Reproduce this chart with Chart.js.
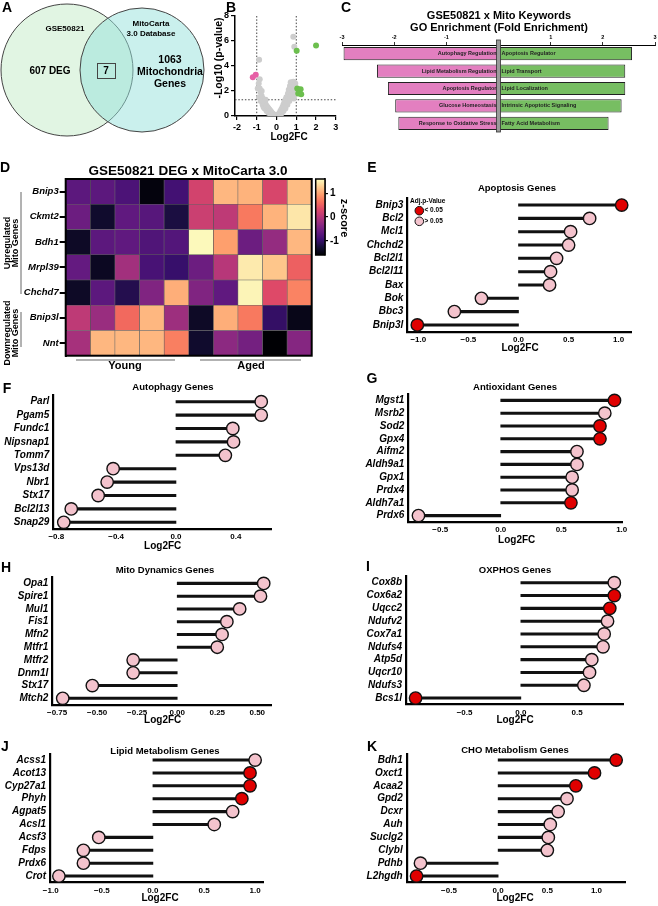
<!DOCTYPE html>
<html>
<head>
<meta charset="utf-8">
<script src="https://cdn.jsdelivr.net/npm/chart.js@4.4.1/dist/chart.umd.min.js"></script>
<style>
  body { margin: 0; background: #fff; }
  #fig { position: relative; width: 658px; height: 906px; background: #fff; overflow: hidden; }
  #fig canvas { position: absolute; }
</style>
</head>
<body>
<div id="fig"></div>
<script>
// ---- A: Venn ----
const vennNames = ['GSE50821', 'MitoCarta', '3.0 Database'];
const vennCounts = ['607 DEG', '7', '1063', 'Mitochondria', 'Genes'];
const vennX = [67, 142];
const vennR = [66, 62];

// ---- B: volcano (Log2FC, -log10 p) ----
const volcanoUp = [[2.0, 5.65], [1.02, 5.23], [1.05, 2.21], [1.22, 2.14], [1.1, 1.81], [1.25, 1.74]];
const volcanoDown = [[-1.2, 3.1], [-1.05, 3.3]];
const volcanoGray = [
  [-0.95, 2.2], [-0.88, 4.5], [-0.85, 2.95], [-0.9, 2.6], [-0.85, 2.2], [-0.88, 1.5], [-0.8, 1.9], [-0.8, 1.2],
  [-0.75, 2.0], [-0.75, 1.6], [-0.7, 1.4], [-0.7, 0.9], [-0.65, 1.2], [-0.65, 0.7], [-0.6, 1.1], [-0.6, 0.6],
  [-0.55, 0.95], [-0.55, 1.3], [-0.5, 0.8], [-0.5, 0.4], [-0.45, 0.7], [-0.4, 0.6], [-0.4, 0.25], [-0.35, 0.5],
  [-0.3, 0.4], [-0.3, 0.15], [-0.25, 0.3], [-0.2, 0.2], [-0.2, 0.05], [-0.15, 0.15], [-0.1, 0.08], [-0.05, 0.03],
  [0.05, 0.04], [0.1, 0.1], [0.1, 0.15], [0.15, 0.18], [0.15, 0.25], [0.2, 0.3], [0.2, 0.4], [0.25, 0.4],
  [0.25, 0.55], [0.25, 0.2], [0.3, 0.5], [0.3, 0.7], [0.35, 0.65], [0.35, 0.9], [0.35, 0.4], [0.4, 0.8],
  [0.4, 1.1], [0.45, 0.95], [0.45, 1.3], [0.45, 0.6], [0.5, 1.1], [0.5, 1.5], [0.55, 1.3], [0.55, 0.9],
  [0.58, 1.8], [0.6, 1.5], [0.62, 2.1], [0.65, 1.7], [0.65, 1.2], [0.68, 2.4], [0.7, 1.95], [0.7, 1.45],
  [0.72, 2.7], [0.75, 2.2], [0.78, 2.3], [0.8, 2.5], [0.82, 1.9], [0.85, 2.75], [0.88, 1.4], [0.9, 2.1],
  [0.92, 1.7], [0.95, 2.6], [0.85, 6.35], [0.9, 5.55]
];
const volcanoXTicks = [-2, -1, 0, 1, 2, 3];
const volcanoYTicks = [0, 2, 4, 6, 8];

// ---- C: GO enrichment ----
const goDownTerms = ['Autophagy Regulation', 'Lipid Metabolism Regulation', 'Apoptosis Regulator', 'Glucose Homeostasis', 'Response to Oxidative Stress'];
const goDownFE = [-2.97, -2.33, -2.12, -1.98, -1.92];
const goUpTerms = ['Apoptosis Regulator', 'Lipid Transport', 'Lipid Localization', 'Intrinsic Apoptotic Signaling', 'Fatty Acid Metabolism'];
const goUpFE = [2.56, 2.43, 2.43, 2.36, 2.11];
const goTicks = [-3, -2, -1, 0, 1, 2, 3];

// ---- D: heatmap ----
const heatGenes = ['Bnip3', 'Ckmt2', 'Bdh1', 'Mrpl39', 'Chchd7', 'Bnip3l', 'Nnt'];
const heatSamples = ['Y1', 'Y2', 'Y3', 'Y4', 'Y5', 'A1', 'A2', 'A3', 'A4', 'A5'];
const heatZ = [
  [-0.70, -0.70, -0.83, -1.54, -0.90, 0.22, 1.12, 1.09, 0.26, 1.15],
  [-0.58, -1.34, -0.67, -0.74, -1.22, 0.16, 0.06, 0.70, 1.09, 1.44],
  [-1.38, -0.70, -0.67, -0.80, -0.77, 1.57, 0.96, -0.58, -0.26, 1.12],
  [-0.64, -1.41, -0.16, -0.86, -0.99, -0.58, 0.00, 1.47, 1.22, 0.51],
  [-1.38, -0.70, -1.15, -0.42, 1.06, -0.42, -0.67, 1.54, 0.32, 0.77],
  [0.06, -0.22, 0.58, 1.12, -0.19, -1.38, 1.06, 0.70, -1.02, -1.47],
  [-0.13, 1.12, 1.12, 1.12, 0.74, -1.34, -0.32, -0.51, -1.60, -0.38]
];
const zTicks = [-1, 0, 1];
const Z_MIN = -1.6, Z_MAX = 1.6;

// ---- E-K: lollipops ----
const apoptosisGenes = ['Bnip3', 'Bcl2', 'Mcl1', 'Chchd2', 'Bcl2l1', 'Bcl2l11', 'Bax', 'Bok', 'Bbc3', 'Bnip3l'];
const apoptosisFC = [1.03, 0.71, 0.52, 0.50, 0.38, 0.32, 0.31, -0.37, -0.64, -1.01];
const apoptosisSig = [1, 0, 0, 0, 0, 0, 0, 0, 0, 1];
const apoptosisTicks = [-1, -0.5, 0, 0.5, 1];

const autophagyGenes = ['Parl', 'Pgam5', 'Fundc1', 'Nipsnap1', 'Tomm7', 'Vps13d', 'Nbr1', 'Stx17', 'Bcl2l13', 'Snap29'];
const autophagyFC = [0.57, 0.57, 0.38, 0.385, 0.33, -0.42, -0.46, -0.52, -0.70, -0.75];
const autophagySig = [0, 0, 0, 0, 0, 0, 0, 0, 0, 0];
const autophagyTicks = [-0.8, -0.4, 0, 0.4];

const antioxGenes = ['Mgst1', 'Msrb2', 'Sod2', 'Gpx4', 'Aifm2', 'Aldh9a1', 'Gpx1', 'Prdx4', 'Aldh7a1', 'Prdx6'];
const antioxFC = [0.94, 0.86, 0.82, 0.82, 0.63, 0.63, 0.59, 0.59, 0.58, -0.68];
const antioxSig = [1, 0, 1, 1, 0, 0, 0, 0, 1, 0];
const antioxTicks = [-0.5, 0, 0.5, 1];

const dynamicsGenes = ['Opa1', 'Spire1', 'Mul1', 'Fis1', 'Mfn2', 'Mtfr1', 'Mtfr2', 'Dnm1l', 'Stx17', 'Mtch2'];
const dynamicsFC = [0.54, 0.52, 0.39, 0.31, 0.28, 0.25, -0.275, -0.275, -0.53, -0.715];
const dynamicsSig = [0, 0, 0, 0, 0, 0, 0, 0, 0, 0];
const dynamicsTicks = [-0.75, -0.5, -0.25, 0, 0.25, 0.5];

const oxphosGenes = ['Cox8b', 'Cox6a2', 'Uqcc2', 'Ndufv2', 'Cox7a1', 'Ndufs4', 'Atp5d', 'Uqcr10', 'Ndufs3', 'Bcs1l'];
const oxphosFC = [0.83, 0.83, 0.79, 0.77, 0.74, 0.73, 0.63, 0.61, 0.56, -0.935];
const oxphosSig = [0, 1, 1, 0, 0, 0, 0, 0, 0, 1];
const oxphosTicks = [-0.5, 0, 0.5];

const lipidGenes = ['Acss1', 'Acot13', 'Cyp27a1', 'Phyh', 'Agpat5', 'Acsl1', 'Acsf3', 'Fdps', 'Prdx6', 'Crot'];
const lipidFC = [1.0, 0.95, 0.95, 0.87, 0.78, 0.60, -0.53, -0.68, -0.68, -0.92];
const lipidSig = [0, 1, 1, 1, 0, 0, 0, 0, 0, 0];
const lipidTicks = [-1, -0.5, 0, 0.5, 1];

const choGenes = ['Bdh1', 'Oxct1', 'Acaa2', 'Gpd2', 'Dcxr', 'Auh', 'Suclg2', 'Clybl', 'Pdhb', 'L2hgdh'];
const choFC = [1.20, 0.98, 0.79, 0.70, 0.61, 0.53, 0.51, 0.50, -0.79, -0.83];
const choSig = [1, 1, 1, 0, 0, 0, 0, 0, 0, 1];
const choTicks = [-0.5, 0, 0.5, 1];

// ---------------------------------------------------------------
const FONT = "'Liberation Sans', Arial, Helvetica, sans-serif";
Chart.defaults.font.family = FONT;
Chart.defaults.color = '#000';
Chart.defaults.animation = false;
Chart.defaults.responsive = false;
Chart.defaults.events = [];
Chart.defaults.plugins.legend.display = false;
Chart.defaults.plugins.tooltip.enabled = false;

const RED = '#e00000';
const PINK = '#f4c3cd';

function f(size, style) {
  return (style || 'bold') + ' ' + size + 'px ' + FONT;
}

function addCanvas(x, y, w, h) {
  const c = document.createElement('canvas');
  c.width = w; c.height = h;
  c.style.left = x + 'px'; c.style.top = y + 'px';
  c.style.width = w + 'px'; c.style.height = h + 'px';
  document.getElementById('fig').appendChild(c);
  return c;
}

// texts are given in page coordinates, ox/oy is the canvas origin
function textLayer(ox, oy, items, extra) {
  return {
    id: 'textLayer',
    afterDraw(chart) {
      const ctx = chart.ctx;
      ctx.save();
      ctx.translate(-ox, -oy);
      if (extra) extra(chart, ctx);
      items.forEach(it => {
        ctx.save();
        ctx.font = it.font;
        ctx.fillStyle = it.color || '#000';
        ctx.textAlign = it.align || 'center';
        ctx.textBaseline = 'middle';
        ctx.translate(it.x, it.y);
        if (it.rot) ctx.rotate(it.rot);
        ctx.fillText(it.text, 0, 0);
        ctx.restore();
      });
      ctx.restore();
    }
  };
}

function fixedTicks(vals) {
  return s => { s.ticks = vals.map(v => ({ value: v })); };
}

function hexToRgb(h) {
  return [parseInt(h.slice(1, 3), 16), parseInt(h.slice(3, 5), 16), parseInt(h.slice(5, 7), 16)];
}
const MAGMA = ['#000004', '#140e36', '#3b0f70', '#641a80', '#8c2981', '#b73779', '#de4968', '#f7705c', '#fe9f6d', '#fecf92', '#fcfdbf'].map(hexToRgb);
function zColor(z) {
  let t = (z - Z_MIN) / (Z_MAX - Z_MIN);
  t = Math.max(0, Math.min(1, t));
  const p = t * (MAGMA.length - 1);
  const i = Math.min(Math.floor(p), MAGMA.length - 2);
  const k = p - i;
  const a = MAGMA[i], b = MAGMA[i + 1];
  return 'rgb(' + [0, 1, 2].map(j => Math.round(a[j] + (b[j] - a[j]) * k)).join(',') + ')';
}

// ---------------- A: Venn ----------------
(function () {
  const cv = addCanvas(0, 0, 215, 145);
  new Chart(cv, {
    type: 'bubble',
    data: {
      datasets: [
        { data: [{ x: vennX[1], y: 70, r: vennR[1] }], backgroundColor: 'rgba(150,225,220,0.5)', borderColor: '#444', borderWidth: 1, clip: false },
        { data: [{ x: vennX[0], y: 70, r: vennR[0] }], backgroundColor: 'rgba(195,235,200,0.5)', borderColor: '#444', borderWidth: 1, clip: false }
      ]
    },
    options: {
      layout: { padding: 0, autoPadding: false },
      scales: {
        x: { display: false, min: 0, max: 215 },
        y: { display: false, min: 0, max: 145, reverse: true }
      }
    },
    plugins: [textLayer(0, 0, [
      { text: 'A', x: 7, y: 8, font: f(14) },
      { text: vennNames[0], x: 65, y: 29, font: f(8) },
      { text: vennNames[1], x: 151, y: 24, font: f(8) },
      { text: vennNames[2], x: 151, y: 34, font: f(8) },
      { text: vennCounts[0], x: 50, y: 71, font: f(10) },
      { text: vennCounts[1], x: 106, y: 71, font: f(10) },
      { text: vennCounts[2], x: 170, y: 60, font: f(10.5) },
      { text: vennCounts[3], x: 170, y: 72, font: f(10.5) },
      { text: vennCounts[4], x: 170, y: 84, font: f(10.5) }
    ], (chart, ctx) => {
      ctx.strokeStyle = '#444';
      ctx.lineWidth = 1;
      ctx.strokeRect(97.5, 63.5, 18, 15);
    })]
  });
})();

// ---------------- B: volcano ----------------
(function () {
  const bx = 195, by = 0, bw = 150, bh = 145;
  const cv = addCanvas(bx, by, bw, bh);
  const pts = a => a.map(p => ({ x: p[0], y: p[1] }));
  const axisGrid = { display: true, drawOnChartArea: false, drawTicks: true, tickLength: 4, color: '#000', lineWidth: 1.2 };
  new Chart(cv, {
    type: 'scatter',
    data: {
      datasets: [
        { data: pts(volcanoUp), backgroundColor: '#6cbf4e', pointRadius: 3, borderWidth: 0 },
        { data: pts(volcanoDown), backgroundColor: '#e65fa5', pointRadius: 3, borderWidth: 0 },
        { data: pts(volcanoGray), backgroundColor: '#cdcdcd', pointRadius: 3, borderWidth: 0 }
      ]
    },
    options: {
      layout: { padding: { left: 0, top: 16, right: bw - (335.8 - bx), bottom: 0 } },
      scales: {
        x: {
          type: 'linear', min: -2.1, max: 3,
          afterFit: s => { s.height = bh - 116; },
          afterBuildTicks: fixedTicks(volcanoXTicks),
          grid: axisGrid, border: { color: '#000', width: 1.5 },
          ticks: { font: { size: 9, weight: 'bold' }, padding: 2 }
        },
        y: {
          type: 'linear', min: 0, max: 8,
          afterFit: s => { s.width = 235 - bx; },
          afterBuildTicks: fixedTicks(volcanoYTicks),
          grid: axisGrid, border: { color: '#000', width: 1.5 },
          ticks: { font: { size: 9, weight: 'bold' }, padding: 2 }
        }
      }
    },
    plugins: [{
      id: 'thresholds',
      beforeDatasetsDraw(chart) {
        const { ctx, chartArea: a, scales: { x, y } } = chart;
        ctx.save();
        ctx.setLineDash([1.5, 1.8]);
        ctx.strokeStyle = '#444';
        ctx.lineWidth = 1;
        [-1, 1].forEach(v => {
          const px = x.getPixelForValue(v);
          ctx.beginPath(); ctx.moveTo(px, a.top); ctx.lineTo(px, a.bottom); ctx.stroke();
        });
        const py = y.getPixelForValue(1.3);
        ctx.beginPath(); ctx.moveTo(a.left, py); ctx.lineTo(a.right, py); ctx.stroke();
        ctx.restore();
      }
    }, textLayer(bx, by, [
      { text: 'B', x: 231, y: 8, font: f(14) },
      { text: '-Log10 (p-value)', x: 219, y: 58, font: f(10.5), rot: -Math.PI / 2 },
      { text: 'Log2FC', x: 289, y: 137, font: f(10) }
    ])]
  });
})();

// ---------------- C: GO enrichment ----------------
(function () {
  const bx = 335, by = 0, bw = 323, bh = 145;
  const cv = addCanvas(bx, by, bw, bh);
  new Chart(cv, {
    type: 'bar',
    data: {
      labels: goDownTerms,
      datasets: [
        { data: goDownFE, backgroundColor: '#e37fc0', borderColor: '#222', borderWidth: 1, borderSkipped: false, grouped: false, barPercentage: 0.76, categoryPercentage: 1 },
        { data: goUpFE, backgroundColor: '#77be62', borderColor: '#222', borderWidth: 1, borderSkipped: false, grouped: false, barPercentage: 0.76, categoryPercentage: 1 }
      ]
    },
    options: {
      indexAxis: 'y',
      layout: { padding: { left: 342 - bx, top: 0, right: bw - (655 - bx), bottom: bh - 132 } },
      scales: {
        x: {
          type: 'linear', position: 'top', min: -3, max: 3,
          afterFit: s => { s.height = 45; },
          afterBuildTicks: fixedTicks(goTicks),
          grid: { display: true, drawOnChartArea: false, drawTicks: true, tickLength: 3, color: '#000', lineWidth: 0.8 },
          border: { color: '#000', width: 1 },
          ticks: { font: { size: 5.5, weight: 'bold' }, padding: 1, callback: v => (v === 0 ? '' : String(v)) }
        },
        y: { display: false }
      }
    },
    plugins: [{
      id: 'goLabels',
      afterDatasetsDraw(chart) {
        const { ctx, chartArea: a, scales: { x } } = chart;
        const x0 = x.getPixelForValue(0);
        ctx.save();
        ctx.fillStyle = '#9a9a9a';
        ctx.strokeStyle = '#333';
        ctx.lineWidth = 0.8;
        ctx.fillRect(x0 - 2, 40, 4, a.bottom - 40);
        ctx.strokeRect(x0 - 2, 40, 4, a.bottom - 40);
        ctx.font = f(5.5);
        ctx.fillStyle = '#222';
        ctx.textBaseline = 'middle';
        chart.getDatasetMeta(0).data.forEach((el, i) => {
          ctx.textAlign = 'right';
          ctx.fillText(goDownTerms[i], x0 - 2, el.y);
        });
        chart.getDatasetMeta(1).data.forEach((el, i) => {
          ctx.textAlign = 'left';
          ctx.fillText(goUpTerms[i], x0 + 3, el.y);
        });
        ctx.restore();
      }
    }, textLayer(bx, by, [
      { text: 'C', x: 346, y: 8, font: f(14) },
      { text: 'GSE50821 x Mito Keywords', x: 499, y: 16, font: f(11) },
      { text: 'GO Enrichment (Fold Enrichment)', x: 499, y: 28, font: f(11) }
    ])]
  });
})();

// ---------------- D: heatmap ----------------
(function () {
  const bx = 0, by = 150, bw = 318, bh = 225;
  const area = [65.7, 179, 311.7, 355.7];
  const cv = addCanvas(bx, by, bw, bh);
  const datasets = heatSamples.map((s, j) => ({
    label: s,
    data: heatGenes.map(() => 1),
    backgroundColor: heatZ.map(row => zColor(row[j])),
    borderColor: 'rgba(50,50,50,0.7)',
    borderWidth: 0.6,
    borderSkipped: false,
    barPercentage: 1,
    categoryPercentage: 1
  }));
  new Chart(cv, {
    type: 'bar',
    data: { labels: heatGenes, datasets },
    options: {
      indexAxis: 'y',
      layout: { padding: { left: 0, top: area[1] - by, right: bw - area[2], bottom: by + bh - area[3] } },
      scales: {
        x: { display: false, stacked: true, min: 0, max: heatSamples.length },
        y: {
          stacked: true,
          afterFit: s => { s.width = area[0] - bx; },
          grid: { display: true, drawOnChartArea: false, drawTicks: true, tickLength: 6, offset: false, color: '#000', lineWidth: 2 },
          border: { color: '#000', width: 2 },
          ticks: { autoSkip: false, font: { size: 9.5, weight: 'bold', style: 'italic' }, padding: 1 }
        }
      }
    },
    plugins: [{
      id: 'frame',
      afterDatasetsDraw(chart) {
        const { ctx, chartArea: a } = chart;
        ctx.save();
        ctx.strokeStyle = '#000';
        ctx.lineWidth = 2;
        ctx.strokeRect(a.left, a.top, a.right - a.left, a.bottom - a.top);
        ctx.restore();
      }
    }, textLayer(bx, by, [
      { text: 'D', x: 5, y: 168, font: f(14) },
      { text: 'GSE50821 DEG x MitoCarta 3.0', x: 188, y: 171, font: f(13.5) },
      { text: 'Upregulated', x: 7.5, y: 243, font: f(9), rot: -Math.PI / 2 },
      { text: 'Mito Genes', x: 15.5, y: 243, font: f(9), rot: -Math.PI / 2 },
      { text: 'Downregulated', x: 7.5, y: 333, font: f(9), rot: -Math.PI / 2 },
      { text: 'Mito Genes', x: 15.5, y: 333, font: f(9), rot: -Math.PI / 2 },
      { text: 'Young', x: 125, y: 366, font: f(11) },
      { text: 'Aged', x: 251, y: 366, font: f(11) }
    ], (chart, ctx) => {
      ctx.strokeStyle = '#666';
      ctx.lineWidth = 1;
      [[21, 192, 21, 294], [21, 312, 21, 347], [76, 360, 175, 360], [200, 360, 301, 360]].forEach(l => {
        ctx.beginPath(); ctx.moveTo(l[0], l[1]); ctx.lineTo(l[2], l[3]); ctx.stroke();
      });
    })]
  });
})();

// ---------------- D: colour bar ----------------
(function () {
  const bx = 312, by = 170, bw = 42, bh = 95;
  const area = [315.7, 179, 325, 255];
  const cv = addCanvas(bx, by, bw, bh);
  new Chart(cv, {
    type: 'bar',
    data: {
      labels: [''],
      datasets: [{
        data: [[Z_MIN, Z_MAX]],
        barPercentage: 1, categoryPercentage: 1, borderWidth: 0,
        backgroundColor: c => {
          const a = c.chart.chartArea;
          if (!a) return '#888';
          const g = c.chart.ctx.createLinearGradient(0, a.bottom, 0, a.top);
          for (let i = 0; i <= 20; i++) {
            g.addColorStop(i / 20, zColor(Z_MIN + (Z_MAX - Z_MIN) * i / 20));
          }
          return g;
        }
      }]
    },
    options: {
      layout: { padding: { left: area[0] - bx, top: area[1] - by, right: 0, bottom: by + bh - area[3] } },
      scales: {
        x: { display: false },
        y: {
          position: 'right', min: Z_MIN, max: Z_MAX,
          afterFit: s => { s.width = bx + bw - area[2]; },
          afterBuildTicks: fixedTicks(zTicks),
          grid: { display: true, drawOnChartArea: false, drawTicks: true, tickLength: 3, color: '#000', lineWidth: 1.2 },
          border: { color: '#000', width: 1.5 },
          ticks: { font: { size: 10, weight: 'bold' }, padding: 2 }
        }
      }
    },
    plugins: [{
      id: 'cbFrame',
      afterDatasetsDraw(chart) {
        const { ctx, chartArea: a } = chart;
        ctx.save();
        ctx.strokeStyle = '#000';
        ctx.lineWidth = 1.5;
        ctx.strokeRect(a.left, a.top, a.right - a.left, a.bottom - a.top);
        ctx.restore();
      }
    }, textLayer(bx, by, [
      { text: 'z-score', x: 344, y: 218, font: f(11), rot: Math.PI / 2 }
    ])]
  });
})();

// ---------------- E-K: lollipops ----------------
function lollipop(p) {
  const [bx, by, bw, bh] = p.box;
  const a = p.area;
  const cv = addCanvas(bx, by, bw, bh);
  const items = [
    { text: p.letter, x: p.letterAt[0], y: p.letterAt[1], font: f(14) },
    { text: p.title, x: p.titleAt[0], y: p.titleAt[1], font: f(9.5) },
    { text: 'Log2FC', x: p.xTitleAt[0], y: p.xTitleAt[1], font: f(10) }
  ].concat(p.extraText || []);
  new Chart(cv, {
    type: 'bar',
    data: {
      labels: p.genes,
      datasets: [
        {
          type: 'line', indexAxis: 'y', data: p.values, showLine: false, order: 0, clip: false,
          pointRadius: 6.2, pointBorderWidth: 1.4, pointBorderColor: '#111',
          pointBackgroundColor: p.sig.map(s => (s ? RED : PINK))
        },
        { type: 'bar', indexAxis: 'y', data: p.values, backgroundColor: '#111', barThickness: 2.4, order: 1 }
      ]
    },
    options: {
      indexAxis: 'y',
      layout: { padding: { left: 0, top: a[1] - by, right: bx + bw - a[2], bottom: 0 } },
      scales: {
        x: {
          type: 'linear', min: p.min, max: p.max,
          afterFit: s => { s.height = by + bh - a[3]; },
          afterBuildTicks: fixedTicks(p.ticks),
          grid: { display: false, drawTicks: false },
          border: { color: '#000', width: 2.2 },
          ticks: { font: { size: 8, weight: 'bold' }, padding: 3, callback: v => v.toFixed(p.dec).replace('-', '\u2212') }
        },
        y: {
          type: 'category',
          afterFit: s => { s.width = a[0] - bx; },
          grid: { display: false, drawTicks: false },
          border: { color: '#000', width: 2.2 },
          ticks: { autoSkip: false, font: { size: 10, weight: 'bold', style: 'italic' }, padding: 4 }
        }
      }
    },
    plugins: [textLayer(bx, by, items, p.extra)]
  });
}

lollipop({
  letter: 'E', letterAt: [372, 168], title: 'Apoptosis Genes', titleAt: [517, 188], xTitleAt: [520, 348],
  box: [356, 160, 300, 200], area: [407.3, 198.4, 631.7, 331.6],
  genes: apoptosisGenes, values: apoptosisFC, sig: apoptosisSig, ticks: apoptosisTicks, dec: 1, min: -1.11, max: 1.13,
  extraText: [
    { text: 'Adj.p-Value', x: 410, y: 201, font: f(6.5), align: 'left' },
    { text: '< 0.05', x: 424.5, y: 210.7, font: f(6.5), align: 'left' },
    { text: '> 0.05', x: 424.5, y: 221.3, font: f(6.5), align: 'left' }
  ],
  extra: (chart, ctx) => {
    [[210.7, RED], [221.3, PINK]].forEach(([y, c]) => {
      ctx.beginPath();
      ctx.arc(419.3, y, 4.3, 0, Math.PI * 2);
      ctx.fillStyle = c; ctx.fill();
      ctx.strokeStyle = '#111'; ctx.lineWidth = 1; ctx.stroke();
    });
  }
});

lollipop({
  letter: 'F', letterAt: [7, 389], title: 'Autophagy Genes', titleAt: [173, 387], xTitleAt: [162.7, 546],
  box: [0, 378, 320, 175], area: [53.3, 395, 271.7, 529],
  genes: autophagyGenes, values: autophagyFC, sig: autophagySig, ticks: autophagyTicks, dec: 1, min: -0.82, max: 0.64
});

lollipop({
  letter: 'G', letterAt: [372, 379], title: 'Antioxidant Genes', titleAt: [515, 387.3], xTitleAt: [516.7, 540],
  box: [356, 368, 300, 180], area: [408.3, 394, 622.7, 522],
  genes: antioxGenes, values: antioxFC, sig: antioxSig, ticks: antioxTicks, dec: 1, min: -0.764, max: 1.008
});

lollipop({
  letter: 'H', letterAt: [6, 568], title: 'Mito Dynamics Genes', titleAt: [165, 570], xTitleAt: [162.7, 720.7],
  box: [0, 556, 320, 172], area: [52.3, 577, 271.7, 704.7],
  genes: dynamicsGenes, values: dynamicsFC, sig: dynamicsSig, ticks: dynamicsTicks, dec: 2, min: -0.78, max: 0.59
});

lollipop({
  letter: 'I', letterAt: [368, 567], title: 'OXPHOS Genes', titleAt: [515, 570], xTitleAt: [515, 720],
  box: [356, 556, 300, 172], area: [406, 576.3, 623.3, 704.5],
  genes: oxphosGenes, values: oxphosFC, sig: oxphosSig, ticks: oxphosTicks, dec: 1, min: -1.02, max: 0.91
});

lollipop({
  letter: 'J', letterAt: [5, 747], title: 'Lipid Metabolism Genes', titleAt: [165, 751], xTitleAt: [160, 898.3],
  box: [0, 736, 320, 170], area: [50, 753.6, 263.3, 882.5],
  genes: lipidGenes, values: lipidFC, sig: lipidSig, ticks: lipidTicks, dec: 1, min: -1.007, max: 1.08
});

lollipop({
  letter: 'K', letterAt: [372, 747], title: 'CHO Metabolism Genes', titleAt: [515, 750.7], xTitleAt: [515, 898.3],
  box: [356, 736, 300, 170], area: [406.7, 753.6, 625, 882.5],
  genes: choGenes, values: choFC, sig: choSig, ticks: choTicks, dec: 1, min: -0.93, max: 1.29
});
</script>
</body>
</html>
